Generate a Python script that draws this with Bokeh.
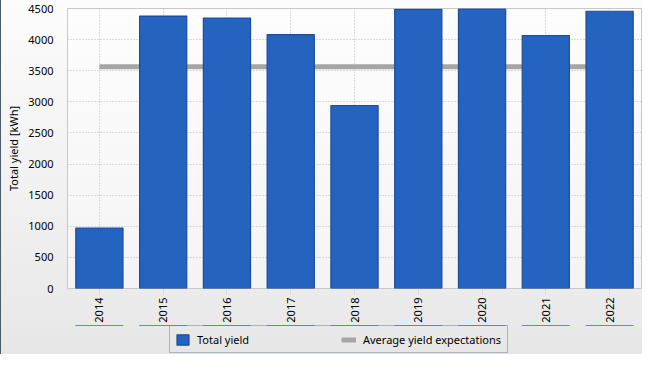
from bokeh.plotting import figure
from bokeh.layouts import column
from bokeh.models import Legend, LegendItem, SingleIntervalTicker, Range1d, FactorRange
from bokeh.embed import file_html
from bokeh.resources import INLINE
import math

# ---- data ----
years = ["2014", "2015", "2016", "2017", "2018", "2019", "2020", "2021", "2022"]
total_yield = [972, 4378, 4347, 4081, 2941, 4487, 4495, 4066, 4456]
avg_expectation = 3565
avg_line = [avg_expectation for _ in years]

FONT = "Noto Sans"
BAR_FILL = "#2463c0"
BAR_LINE = "#1e4c96"
AVG_COLOR = "#a6a6a6"

p = figure(
    x_range=years,
    y_range=Range1d(0, 4500),
    width=642, height=325,
    output_backend="svg",
    toolbar_location=None,
    min_border_left=67, min_border_right=1,
    min_border_top=8, min_border_bottom=36,
)
p.styles = {
    "background": "linear-gradient(to right, #4a5b6c 0px, #4a5b6c 1px, transparent 1px), linear-gradient(#fcfcfc, #e9e9e9)",
}
p.border_fill_alpha = 0
p.background_fill_color = "#ffffff"
p.background_fill_alpha = 0.45
p.outline_line_color = "#c8c8c8"

# average line behind bars
avg_r = p.line(x=years, y=avg_line, line_color=AVG_COLOR, line_width=5)
bar_r = p.vbar(x=years, top=total_yield, width=0.74,
               fill_color=BAR_FILL, line_color=BAR_LINE, line_width=1.2)

# grids
p.xgrid.grid_line_color = "#b8b8b8"
p.xgrid.grid_line_dash = "1 2"
p.ygrid.grid_line_color = "#b8b8b8"
p.ygrid.grid_line_dash = "1 2"

# y axis
p.yaxis.ticker = SingleIntervalTicker(interval=500)
p.yaxis.axis_label = "Total yield [kWh]"
p.yaxis.axis_label_text_font = FONT
p.yaxis.axis_label_text_font_size = "11px"
p.yaxis.axis_label_text_font_style = "normal"
p.yaxis.axis_label_text_color = "#000000"
p.yaxis.axis_label_standoff = 4
p.yaxis.axis_line_color = None
p.yaxis.major_tick_line_color = None
p.yaxis.minor_tick_line_color = None
p.yaxis.major_tick_out = 0
p.yaxis.major_tick_in = 0
p.yaxis.major_label_standoff = 10
p.yaxis.major_label_text_font = FONT
p.yaxis.major_label_text_font_size = "11px"
p.yaxis.major_label_text_color = "#000000"

# x axis
p.xaxis.axis_line_color = None
p.xaxis.major_tick_line_color = "#b8b8b8"
p.xaxis.major_tick_line_dash = "1 2"
p.xaxis.major_tick_out = 5
p.xaxis.major_tick_in = 0
p.xaxis.major_label_standoff = 4
p.xaxis.major_label_orientation = math.pi / 2
p.xaxis.major_label_text_font = FONT
p.xaxis.major_label_text_font_size = "11px"
p.xaxis.major_label_text_color = "#000000"

# ---- legend strip below the chart ----
lg = figure(
    width=642, height=29,
    x_range=FactorRange(*years), y_range=Range1d(-2, -1),
    output_backend="svg",
    toolbar_location=None,
    x_axis_location=None, y_axis_location=None,
    min_border_left=0, min_border_right=0, min_border_top=0, min_border_bottom=0,
)
lg.styles = {
    "background": "linear-gradient(to right, #4a5b6c 0px, #4a5b6c 1px, transparent 1px), linear-gradient(#e9e9e9, #e6e6e6)",
}
lg.border_fill_alpha = 0
lg.background_fill_alpha = 0
lg.outline_line_color = None
lg.grid.visible = False

# same series, outside this strip's visible range: only used as legend swatches
lg_bar = lg.vbar(x=years, top=total_yield, width=0.74,
                 fill_color=BAR_FILL, line_color=BAR_LINE, line_width=1.2)
lg_avg = lg.line(x=years, y=avg_line, line_color=AVG_COLOR, line_width=5)

legend = Legend(
    items=[LegendItem(label="Total yield", renderers=[lg_bar]),
           LegendItem(label="Average yield expectations", renderers=[lg_avg])],
    orientation="horizontal",
    location=(102, 1),
    margin=0, padding=5, spacing=5,
    glyph_width=15, glyph_height=13,
    label_standoff=7, label_width=139, label_height=16,
    label_text_font=FONT, label_text_font_size="11px",
    label_text_color="#000000",
    border_line_color="#6e7f8f", border_line_width=1,
    background_fill_alpha=0,
)
lg.add_layout(legend, "center")

layout = column(p, lg, spacing=0)

open("out.html", "w").write(file_html(layout, INLINE))
